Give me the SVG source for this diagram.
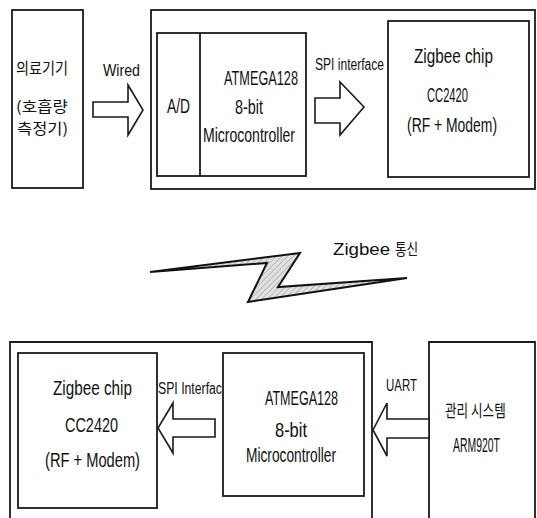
<svg xmlns="http://www.w3.org/2000/svg" width="537" height="518" viewBox="0 0 537 518">
  <defs>
    <pattern id="hatch" width="4" height="4" patternUnits="userSpaceOnUse" patternTransform="rotate(45)">
      <rect width="4" height="4" fill="#e2e2e2"/>
      <line x1="0" y1="0" x2="0" y2="4" stroke="#9a9a9a" stroke-width="1.2"/>
    </pattern>
  </defs>
  <style>
    .box { fill: none; stroke: #1a1a1a; stroke-width: 1.8; }
    .arrow { fill: #fff; stroke: #1a1a1a; stroke-width: 1.6; stroke-linejoin: miter; }
    text { font-family: "Liberation Sans", "Noto Sans CJK KR", sans-serif; fill: #111; }
    .t { font-size: 20.5px; }
    .s { font-size: 16px; }
    .k { font-size: 16px; font-family: "Noto Sans CJK KR", "Liberation Sans", sans-serif; }
    .k2 { font-size: 15px; font-family: "Noto Sans CJK KR", "Liberation Sans", sans-serif; }
  </style>
  <rect width="537" height="518" fill="#fff"/>

  <g id="medical-device">
    <rect class="box" x="12" y="10" width="71" height="178"/>
    <text class="k" transform="translate(16,74) scale(0.8,1)" textLength="65" lengthAdjust="spacingAndGlyphs">의료기기</text>
    <text class="k2" transform="translate(16,112) scale(0.85,1)" textLength="61" lengthAdjust="spacingAndGlyphs">(호흡량</text>
    <text class="k2" transform="translate(17,134) scale(0.85,1)" textLength="60" lengthAdjust="spacingAndGlyphs">측정기)</text>
  </g>

  <g id="sensor-node">
    <rect class="box" x="151" y="10" width="384" height="179"/>
  </g>

  <g id="mcu-top">
    <rect class="box" x="157" y="33" width="149" height="143"/>
    <line class="box" x1="200" y1="33" x2="200" y2="176"/>
    <text class="t" transform="translate(167,113) scale(0.7,1)" textLength="33" lengthAdjust="spacingAndGlyphs">A/D</text>
    <text class="t" transform="translate(224,85) scale(0.7,1)" textLength="105.7" lengthAdjust="spacingAndGlyphs">ATMEGA128</text>
    <text class="t" transform="translate(235,114) scale(0.7,1)" textLength="40" lengthAdjust="spacingAndGlyphs">8-bit</text>
    <text class="t" transform="translate(203,142) scale(0.7,1)" textLength="131.4" lengthAdjust="spacingAndGlyphs">Microcontroller</text>
  </g>

  <g id="zigbee-top">
    <rect class="box" x="388" y="21" width="141" height="156"/>
    <text class="t" transform="translate(414,63) scale(0.7,1)" textLength="112.9" lengthAdjust="spacingAndGlyphs">Zigbee chip</text>
    <text class="t" transform="translate(427,102) scale(0.7,1)" textLength="58.6" lengthAdjust="spacingAndGlyphs">CC2420</text>
    <text class="t" transform="translate(407,132) scale(0.7,1)" textLength="128.6" lengthAdjust="spacingAndGlyphs">(RF + Modem)</text>
  </g>

  <g id="zigbee-link">
    <polygon points="150,272 300,253 278,287 407,278 248,302 267,263" fill="url(#hatch)" stroke="#111" stroke-width="2" stroke-linejoin="miter"/>
    <text class="s" x="333" y="255" textLength="57" lengthAdjust="spacingAndGlyphs">Zigbee</text>
    <text class="k" transform="translate(395,255) scale(0.75,1)" textLength="31" lengthAdjust="spacingAndGlyphs">통신</text>
  </g>

  <g id="coordinator-node">
    <path class="box" d="M10,520 V342 H372 V520"/>
  </g>

  <g id="zigbee-bottom">
    <rect class="box" x="18" y="353" width="139" height="155"/>
    <text class="t" transform="translate(53,395) scale(0.7,1)" textLength="112.9" lengthAdjust="spacingAndGlyphs">Zigbee chip</text>
    <text class="t" transform="translate(65,432) scale(0.7,1)" textLength="75.7" lengthAdjust="spacingAndGlyphs">CC2420</text>
    <text class="t" transform="translate(45,467) scale(0.7,1)" textLength="135.7" lengthAdjust="spacingAndGlyphs">(RF + Modem)</text>
  </g>

  <g id="mcu-bottom">
    <rect class="box" x="223" y="353" width="141" height="143"/>
    <text class="t" transform="translate(265,405) scale(0.7,1)" textLength="104.3" lengthAdjust="spacingAndGlyphs">ATMEGA128</text>
    <text class="t" transform="translate(275,437) scale(0.7,1)" textLength="45.7" lengthAdjust="spacingAndGlyphs">8-bit</text>
    <text class="t" transform="translate(246,462) scale(0.7,1)" textLength="128.6" lengthAdjust="spacingAndGlyphs">Microcontroller</text>
  </g>

  <g id="management-system">
    <path class="box" d="M429,520 V342 H535 V520"/>
    <text class="k" transform="translate(445,417) scale(0.75,1.06)" textLength="81" lengthAdjust="spacingAndGlyphs">관리 시스템</text>
    <text class="t" transform="translate(453,452) scale(0.7,1)" textLength="67.1" lengthAdjust="spacingAndGlyphs">ARM920T</text>
  </g>

  <g id="connectors">
    <polygon class="arrow" points="93,102 128,102 128,85 143,110 128,135 128,117 93,117"/>
    <text class="s" x="103" y="76" textLength="37" lengthAdjust="spacingAndGlyphs">Wired</text>

    <polygon class="arrow" points="315,98 340,98 340,82 364,107 340,135 340,123 315,123"/>
    <text class="s" transform="translate(315,70) scale(0.75,1)" textLength="92" lengthAdjust="spacingAndGlyphs">SPI interface</text>

    <polygon class="arrow" points="215,419 173,419 173,403 158,428 173,453 173,437 215,437"/>
    <text class="s" transform="translate(158,394) scale(0.75,1)" textLength="85.3" lengthAdjust="spacingAndGlyphs">SPI Interfac</text>

    <polygon class="arrow" points="429,419 387,419 387,403 373,430 387,456 387,438 429,438"/>
    <text class="s" transform="translate(386,391) scale(0.75,1)" textLength="41.3" lengthAdjust="spacingAndGlyphs">UART</text>
  </g>
</svg>
